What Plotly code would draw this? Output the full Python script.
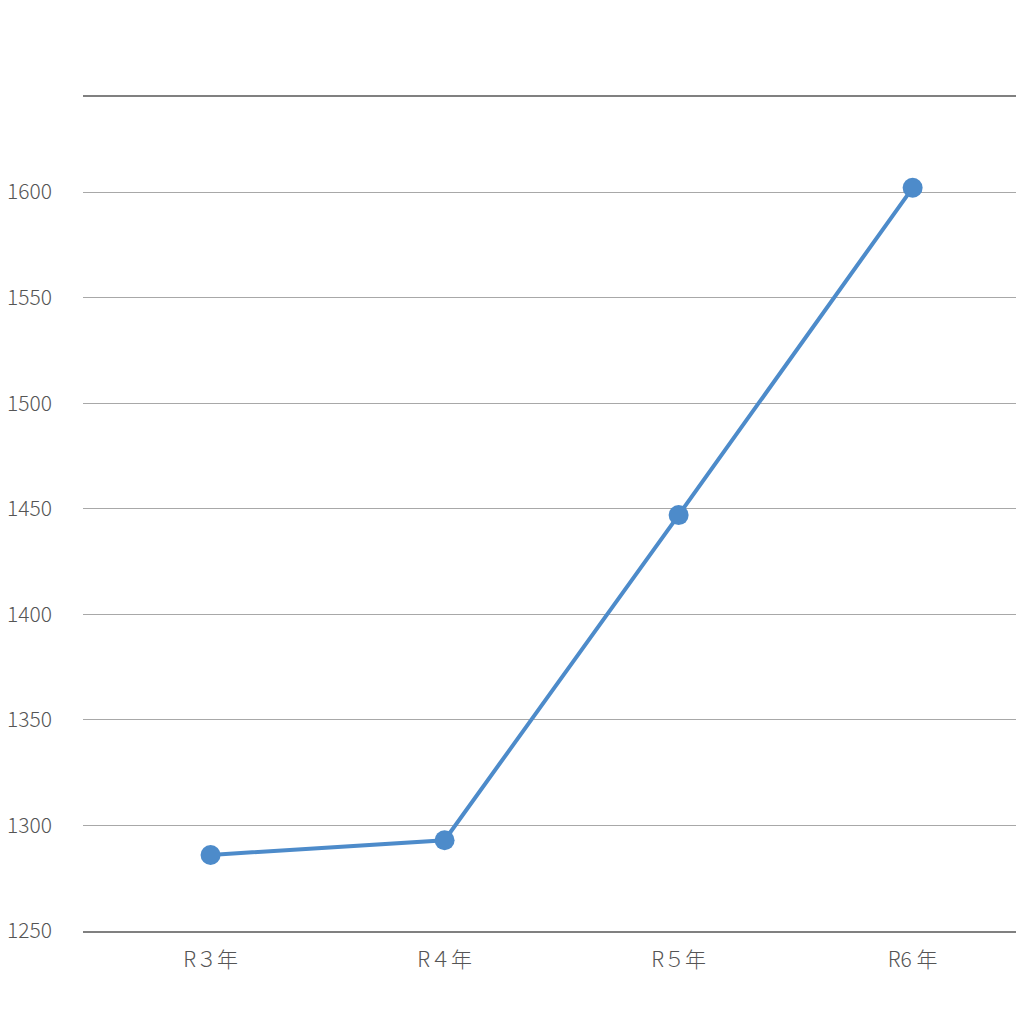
import plotly.graph_objects as go

categories = ["R３年", "R４年", "R５年", "R6 年"]
values = [1286, 1293, 1447, 1602]
y_ticks = [1250, 1300, 1350, 1400, 1450, 1500, 1550, 1600]

fig = go.Figure()
fig.add_trace(go.Scatter(
    x=list(range(len(categories))), y=values, mode="lines+markers",
    line=dict(color="#4d8bca", width=4),
    marker=dict(color="#4d8bca", size=20),
    showlegend=False, hoverinfo="skip",
))

font_family = "Noto Sans CJK JP, Noto Sans, sans-serif"
fig.update_layout(
    width=1024, height=1024,
    margin=dict(l=75, r=0, t=89, b=101),
    paper_bgcolor="white", plot_bgcolor="white",
    font=dict(family=font_family, color="#555555", size=20, weight=300),
    xaxis=dict(
        range=[-0.545, 3.51],
        tickmode="array", tickvals=list(range(len(categories))), ticktext=categories,
        showgrid=False, zeroline=False,
        showline=True, mirror=True, linecolor="#808080", linewidth=2,
        ticks="", ticklabelstandoff=9,
        tickfont=dict(size=21, color="#555555", weight=300),
    ),
    yaxis=dict(
        range=[1250, 1645],
        tickmode="array", tickvals=y_ticks,
        showgrid=True, gridcolor="#a8a8a8", gridwidth=1,
        zeroline=False, showline=False, ticks="",
        ticklabelstandoff=30,
        tickfont=dict(size=21, color="#555555", weight=300),
    ),
)

fig.write_html("out.html")
